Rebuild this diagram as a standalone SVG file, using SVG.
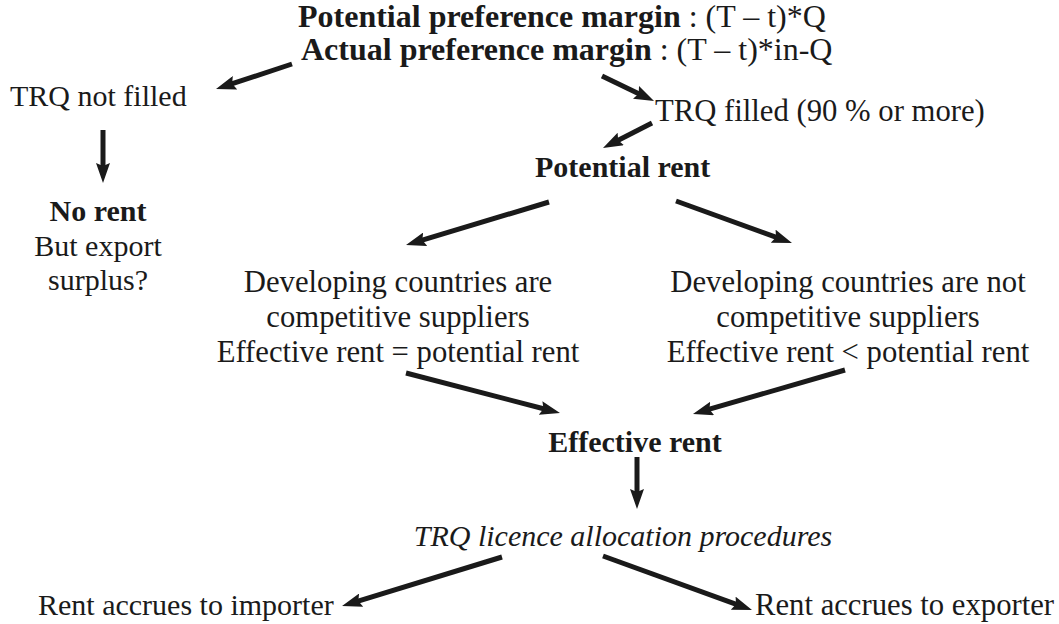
<svg xmlns="http://www.w3.org/2000/svg" width="1059" height="624" viewBox="0 0 1059 624">
<defs>
<style>
text{font-family:"Liberation Serif","Times New Roman",serif;font-size:30px;fill:#1a1a1a}
.b{font-weight:bold}
.i{font-style:italic}
.t{font-size:32px}
.d{font-size:30.7px}
.m{text-anchor:middle}
.c line{stroke:#1a1a1a;stroke-width:5;marker-end:url(#ah)}
</style>
<marker id="ah" markerUnits="userSpaceOnUse" markerWidth="20" markerHeight="14" refX="10" refY="7" orient="auto" viewBox="0 0 20 14">
<path d="M0,0 L20,7 L0,14 L3,7 z" fill="#1a1a1a"/>
</marker>
</defs>
<rect width="1059" height="624" fill="#fff"/>
<g id="margins">
<text class="t" x="298" y="27"><tspan class="b">Potential preference margin</tspan> : (T – t)*Q</text>
<text class="t" x="301" y="60"><tspan class="b">Actual preference margin</tspan> : (T – t)*in-Q</text>
</g>
<g id="not-filled"><text x="10" y="106">TRQ not filled</text></g>
<g id="filled"><text class="d" x="655" y="121">TRQ filled (90 % or more)</text></g>
<g id="potential-rent"><text class="b" x="535" y="177">Potential rent</text></g>
<g id="no-rent">
<text class="b m" x="98" y="221">No rent</text>
<text class="m" x="98" y="256">But export</text>
<text class="m" x="98" y="290">surplus?</text>
</g>
<g id="competitive">
<text class="m d" x="398" y="292">Developing countries are</text>
<text class="m d" x="398" y="327">competitive suppliers</text>
<text class="m d" x="398" y="362">Effective rent = potential rent</text>
</g>
<g id="not-competitive">
<text class="m d" x="848" y="292">Developing countries are not</text>
<text class="m d" x="848" y="327">competitive suppliers</text>
<text class="m d" x="848" y="362">Effective rent &lt; potential rent</text>
</g>
<g id="effective-rent"><text class="b m" x="635" y="452">Effective rent</text></g>
<g id="procedures"><text class="i m" x="623" y="546">TRQ licence allocation procedures</text></g>
<g id="importer"><text x="38" y="615">Rent accrues to importer</text></g>
<g id="exporter"><text class="d" x="755" y="615">Rent accrues to exporter</text></g>
<g id="connectors" class="c">
<line x1="292" y1="64" x2="225.5" y2="85.9"/>
<line x1="602" y1="76" x2="645" y2="96.7"/>
<line x1="652" y1="123" x2="611.9" y2="143.5"/>
<line x1="103" y1="130" x2="103" y2="173"/>
<line x1="549" y1="202" x2="415.6" y2="242.1"/>
<line x1="676" y1="201" x2="782.6" y2="239.6"/>
<line x1="406" y1="373" x2="550.3" y2="410.5"/>
<line x1="845" y1="370" x2="702.6" y2="411.2"/>
<line x1="637" y1="457" x2="637" y2="499"/>
<line x1="502" y1="557" x2="351.6" y2="603.1"/>
<line x1="603" y1="556" x2="742.6" y2="606.6"/>
</g>
</svg>
